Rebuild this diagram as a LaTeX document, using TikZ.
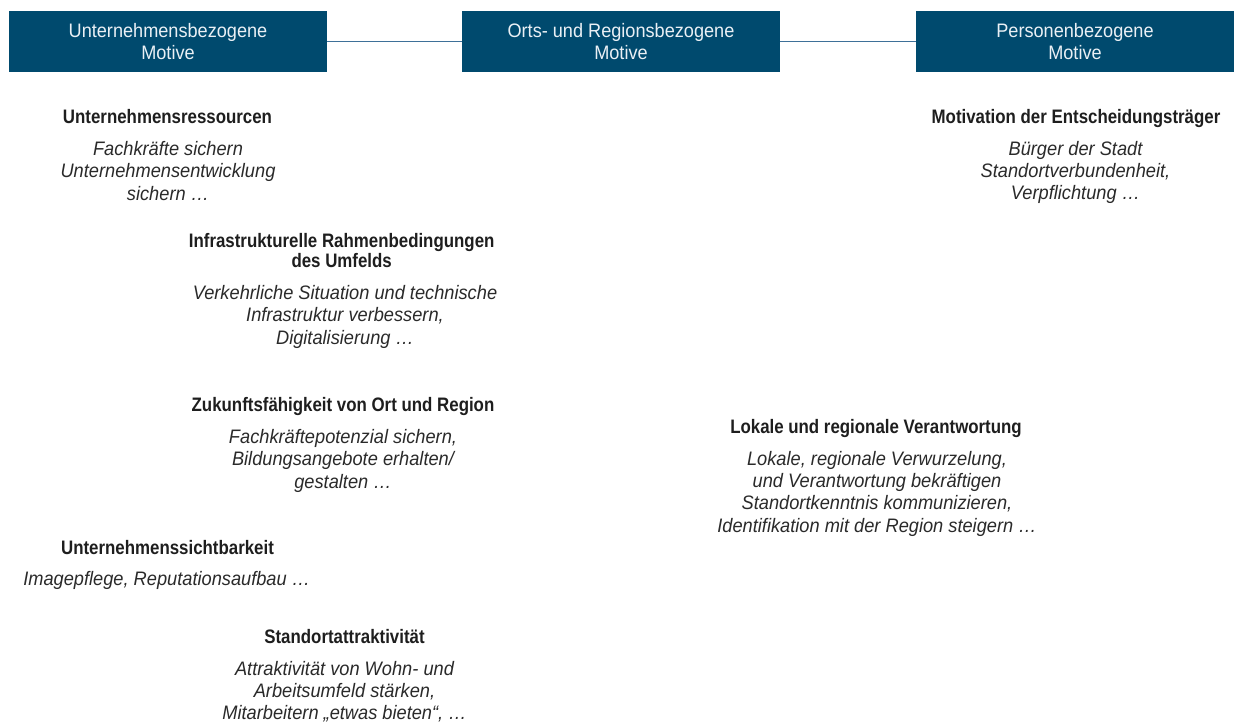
\documentclass[tikz,border=0pt]{standalone}
\usepackage{fontspec}
\setmainfont{Liberation Sans}
\newfontfamily\boxfont{Liberation Sans}[FakeStretch=0.93]
\newfontfamily\headfont{Liberation Sans}[FakeStretch=0.865]
\newfontfamily\bodyfont{Liberation Sans}[FakeStretch=0.935]
\newcommand\topstrut{\rule{0pt}{15pt}}
\definecolor{motiveblue}{RGB}{0,74,110}
\definecolor{boxtext}{RGB}{234,240,245}
\definecolor{linkblue}{RGB}{62,112,152}
\definecolor{headgray}{RGB}{30,30,30}
\definecolor{bodygray}{RGB}{42,42,42}
\tikzset{
  motivebox/.style={fill=motiveblue, text=boxtext, minimum width=318pt, minimum height=61pt,
    inner sep=0pt, align=center, font=\boxfont\fontsize{19.5}{22.6}\selectfont},
  link/.style={draw=linkblue, line width=1.7pt},
  heading/.style={anchor=north, inner sep=0pt, align=center, text=headgray,
    font=\headfont\bfseries\fontsize{19.5}{20}\selectfont},
  body/.style={anchor=north, inner sep=0pt, align=center, text=bodygray,
    font=\bodyfont\itshape\fontsize{19.5}{22.3}\selectfont},
}
\begin{document}
\begin{tikzpicture}[x=1pt, y=-1pt]
  \useasboundingbox[fill=white] (0,0) rectangle (1234,722);

  % the three groups of motives
  \node[motivebox] (firm)   at (168,41.5)  {Unternehmensbezogene\\Motive};
  \node[motivebox] (region) at (621,41.5)  {Orts- und Regionsbezogene\\Motive};
  \node[motivebox] (person) at (1075,41.5) {Personenbezogene\\Motive};
  \draw[link] (firm.east) -- (region.west);
  \draw[link] (region.east) -- (person.west);

  % headings are placed by their first baseline minus the strut height
  \node[heading] (resH) at (167.5,108.3) {\topstrut Unternehmensressourcen};
  \node[body]    (resB) at (168,140.3)   {\topstrut Fachkräfte sichern\\Unternehmensentwicklung\\sichern …};

  \node[heading] (motH) at (1076,108.3) {\topstrut Motivation der Entscheidungsträger};
  \node[body]    (motB) at (1075.5,140) {\topstrut Bürger der Stadt\\Standortverbundenheit,\\Verpflichtung …};

  \node[heading] (infH) at (341.7,232.3) {\topstrut Infrastrukturelle Rahmenbedingungen\\des Umfelds};
  \node[body]    (infB) at (345,284.3)   {\topstrut Verkehrliche Situation und technische\\Infrastruktur verbessern,\\Digitalisierung …};

  \node[heading] (zukH) at (343,396)   {\topstrut Zukunftsfähigkeit von Ort und Region};
  \node[body]    (zukB) at (343,428.3) {\topstrut Fachkräftepotenzial sichern,\\Bildungsangebote erhalten/\\gestalten …};

  \node[heading] (visH) at (167.5,539.3) {\topstrut Unternehmenssichtbarkeit};
  \node[body]    (visB) at (166.7,570)   {\topstrut Imagepflege, Reputationsaufbau …};

  \node[heading] (staH) at (344.5,628.3) {\topstrut Standortattraktivität};
  \node[body]    (staB) at (344.5,660)   {\topstrut Attraktivität von Wohn- und\\Arbeitsumfeld stärken,\\Mitarbeitern „etwas bieten“, …};

  \node[heading] (lokH) at (876,418.3) {\topstrut Lokale und regionale Verantwortung};
  \node[body]    (lokB) at (877,450)   {\topstrut Lokale, regionale Verwurzelung,\\und Verantwortung bekräftigen\\Standortkenntnis kommunizieren,\\Identifikation mit der Region steigern …};
\end{tikzpicture}
\end{document}
